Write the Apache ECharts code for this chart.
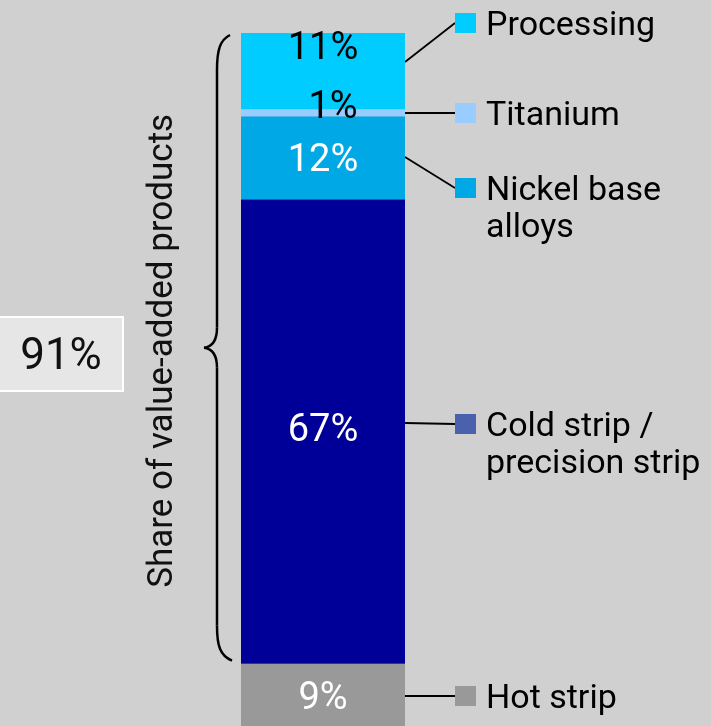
<!DOCTYPE html>
<html>
<head>
<meta charset="utf-8">
<script src="https://cdn.jsdelivr.net/npm/echarts@6/dist/echarts.min.js"></script>
<style>
  html, body { margin: 0; padding: 0; background: #d0d0d0; }
  #chart { width: 711px; height: 726px; }
</style>
</head>
<body>
<div id="chart"></div>
<script>
// Product mix, shares in percent (bottom to top of the stack)
const segments = ['Hot strip', 'Cold strip / precision strip', 'Nickel base alloys', 'Titanium', 'Processing'];
const shares = [9, 67, 12, 1, 11];
const barColors = ['#999999', '#000099', '#00a9e6', '#99ccff', '#00ccff'];
const legendColors = ['#999999', '#4a62ad', '#00a9e6', '#99ccff', '#00ccff'];
const labelColors = ['#ffffff', '#ffffff', '#ffffff', '#000000', '#000000'];
const labelOffsets = [[0, 5], [0, 0], [0, 4], [10, -4], [0, -22]];
const legendLines = [
  ['Hot strip'],
  ['Cold strip /', 'precision strip'],
  ['Nickel base', 'alloys'],
  ['Titanium'],
  ['Processing']
];
// Legend rows: marker centre y, leader start y at the bar edge
const legendY = [696, 424, 188, 113, 23];
const leaderY = [696, 423, 157, 113, 62];
const bracketLabel = 'Share of value-added products';
const bracketValue = '91%';

const FONT = 'Roboto, "Liberation Sans", sans-serif';
const chart = echarts.init(document.getElementById('chart'), null, { renderer: 'canvas' });

const series = segments.map((name, i) => ({
  name: name,
  type: 'bar',
  stack: 'mix',
  barWidth: '100%',
  data: [shares[i]],
  itemStyle: { color: barColors[i] },
  label: {
    show: true,
    position: 'inside',
    formatter: '{c}%',
    color: labelColors[i],
    fontFamily: FONT,
    fontSize: 38,
    offset: labelOffsets[i]
  },
  emphasis: { disabled: true },
  silent: true
}));

chart.setOption({
  backgroundColor: '#d0d0d0',
  animation: false,
  grid: { left: 241, right: 306, top: 33, bottom: 0 },
  xAxis: { type: 'category', data: ['mix'], show: false },
  yAxis: { type: 'value', min: 0, max: 100, show: false },
  series: series
});

// Annotations: bracket over the value-added share, leaders and legend
const xRight = chart.convertToPixel({ gridIndex: 0 }, ['mix', 0])[0] + 82;
const yTop = chart.convertToPixel({ yAxisIndex: 0 }, 100);
const yHot = chart.convertToPixel({ yAxisIndex: 0 }, shares[0]);
const bTop = yTop + 2, bBot = yHot - 3, bMid = (bTop + bBot) / 2;
const bx = 217;
const braceStyle = { fill: 'none', stroke: '#000', lineWidth: 2.5 };

function curve(x1, y1, c1x, c1y, c2x, c2y, x2, y2) {
  return {
    type: 'bezierCurve',
    shape: { x1: x1, y1: y1, cpx1: c1x, cpy1: c1y, cpx2: c2x, cpy2: c2y, x2: x2, y2: y2 },
    style: braceStyle,
    silent: true
  };
}
function seg(x1, y1, x2, y2) {
  return { type: 'line', shape: { x1: x1, y1: y1, x2: x2, y2: y2 }, style: braceStyle, silent: true };
}

const graphics = [
  curve(bx + 13, bTop, bx + 3, bTop + 5, bx, bTop + 15, bx, bTop + 35),
  seg(bx, bTop + 35, bx, bMid - 20),
  curve(bx, bMid - 20, bx, bMid - 7, bx - 5, bMid - 1, bx - 13, bMid),
  curve(bx - 13, bMid, bx - 5, bMid + 1, bx, bMid + 7, bx, bMid + 20),
  seg(bx, bMid + 20, bx, bBot - 35),
  curve(bx, bBot - 35, bx, bBot - 15, bx + 3, bBot - 5, bx + 15, bBot),
  {
    type: 'text',
    x: 163,
    y: bMid + 3,
    rotation: Math.PI / 2,
    style: {
      text: bracketLabel,
      font: '35px ' + FONT,
      fill: '#111',
      align: 'center',
      verticalAlign: 'middle'
    },
    silent: true
  },
  {
    type: 'rect',
    shape: { x: -2, y: 317, width: 125, height: 74 },
    style: { fill: '#e6e6e6', stroke: '#ffffff', lineWidth: 2 },
    silent: true
  },
  {
    type: 'text',
    x: 61,
    y: 358,
    style: {
      text: bracketValue,
      font: '44px ' + FONT,
      fill: '#111',
      align: 'center',
      verticalAlign: 'middle'
    },
    silent: true
  }
];

segments.forEach((name, i) => {
  const my = legendY[i];
  graphics.push({
    type: 'line',
    shape: { x1: xRight, y1: leaderY[i], x2: 455, y2: my },
    style: { stroke: '#000', lineWidth: 1.8 },
    silent: true
  });
  graphics.push({
    type: 'rect',
    shape: { x: 455, y: my - 10, width: 21, height: 20 },
    style: { fill: legendColors[i] },
    silent: true
  });
  legendLines[i].forEach((line, k) => {
    graphics.push({
      type: 'text',
      x: 486,
      y: my + 3 + k * 37,
      style: {
        text: line,
        font: '34px ' + FONT,
        fill: '#000',
        align: 'left',
        verticalAlign: 'middle'
      },
      silent: true
    });
  });
});

chart.setOption({ graphic: graphics });
</script>
</body>
</html>
